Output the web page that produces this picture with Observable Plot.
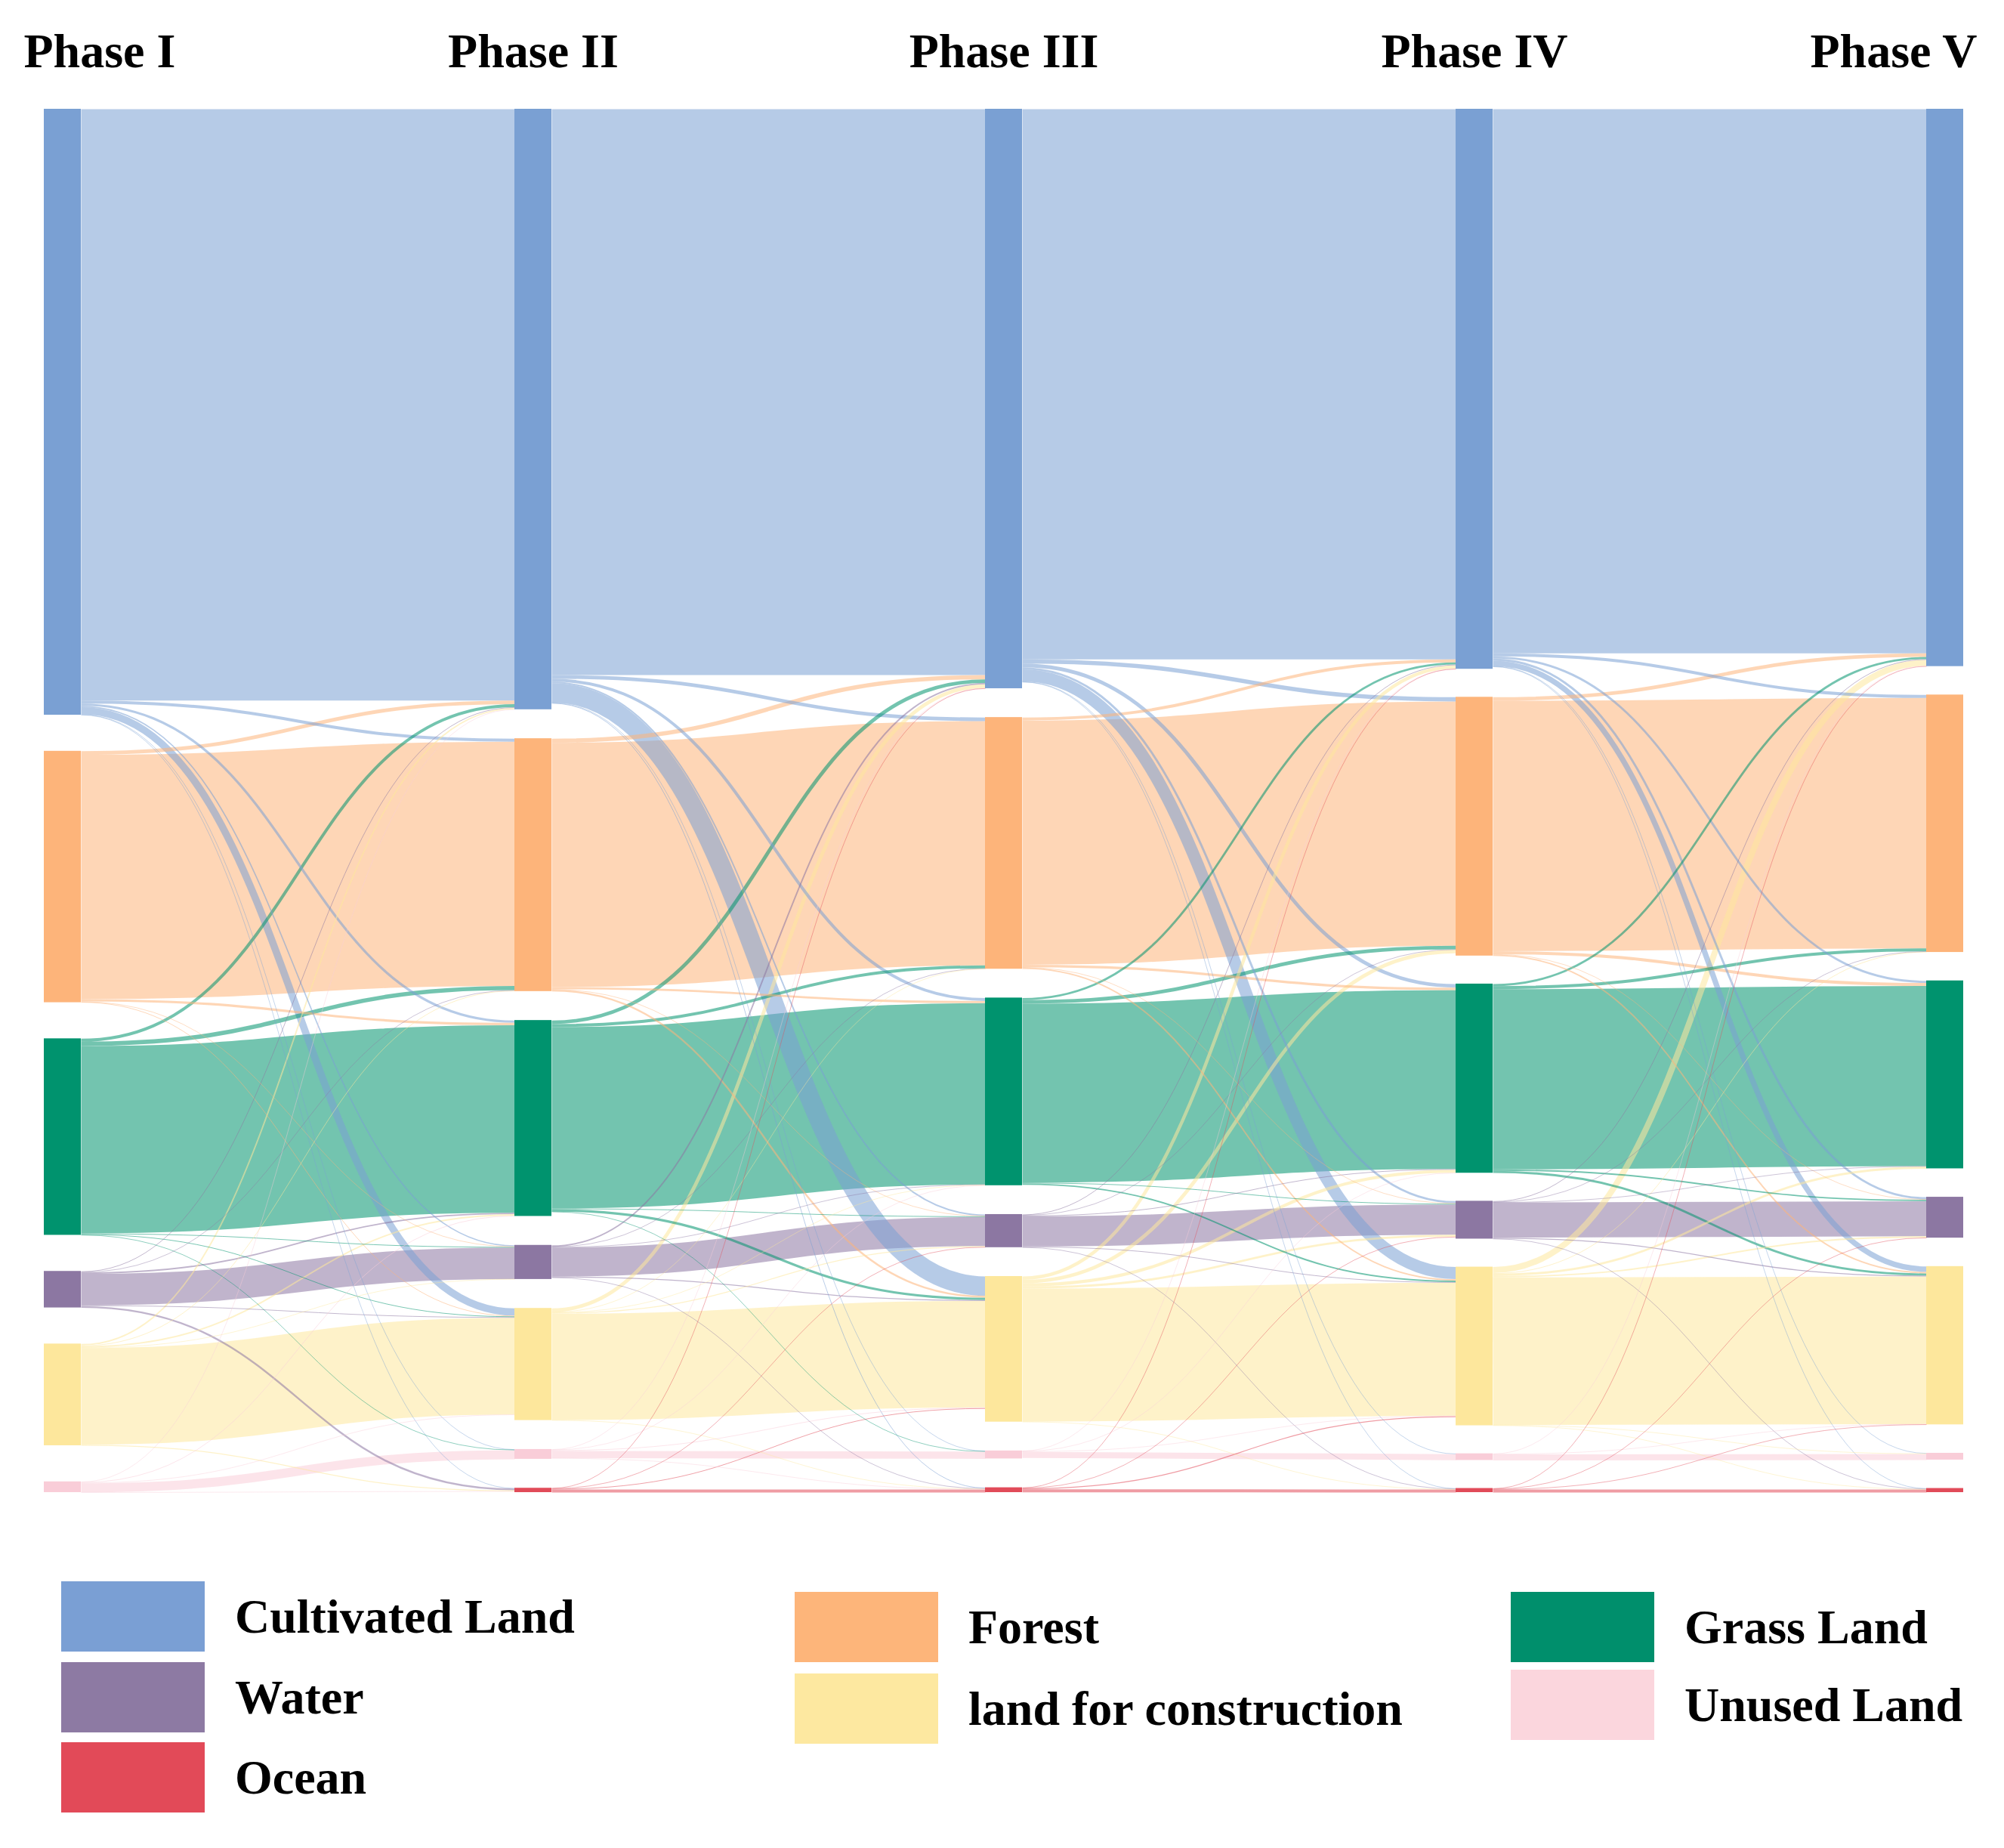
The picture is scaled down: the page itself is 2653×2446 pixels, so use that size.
<!DOCTYPE html>
<html><head><meta charset="utf-8">
<script src="https://cdn.jsdelivr.net/npm/d3@7"></script>
<script src="https://cdn.jsdelivr.net/npm/@observablehq/plot@0.6"></script>
<style>
body{margin:0;background:#fff;}
#wrap{position:relative;width:2653px;height:2446px;font-family:"Liberation Serif","Times New Roman",serif;font-weight:bold;overflow:hidden;}
#chart{position:absolute;left:0;top:0;}
.lg{position:absolute;display:flex;align-items:center;height:93px;}
.sw{width:190px;height:93px;flex:none;}
.lb{font-size:64px;margin-left:40px;color:#000;white-space:nowrap;line-height:1;}
</style></head><body><div id="wrap"><div id="chart"></div><div id="legend"></div></div>
<script>
const phases = ["Phase I", "Phase II", "Phase III", "Phase IV", "Phase V"];
const categories = ["Cultivated Land", "Forest", "Grass Land", "Water", "land for construction", "Unused Land", "Ocean"];
const colors = ["#7aa0d3", "#fdb47a", "#00936e", "#8c77a2", "#fde79c", "#f9cdd8", "#e14b59"];

// land transfer between phases (% of total area); rows = from, columns = to
// order: Cultivated, Forest, Grass, Water, Construction, Unused, Ocean
const flowsI_II = [
  [48.9, 0.25, 0.2, 0.1, 0.6, 0.03, 0.03],
  [0.3, 20.2, 0.2, 0.03, 0.06, 0, 0],
  [0.25, 0.35, 15.5, 0.06, 0.06, 0.03, 0],
  [0.06, 0.03, 0.12, 2.6, 0.06, 0, 0.15],
  [0.12, 0.06, 0.12, 0.03, 8.0, 0, 0.08],
  [0.03, 0, 0.06, 0, 0.03, 0.75, 0.02],
  [0, 0, 0, 0, 0, 0, 0]
];
const flowsII_III = [
  [46.8, 0.3, 0.25, 0.12, 1.6, 0.03, 0.06],
  [0.35, 20.2, 0.18, 0.03, 0.15, 0, 0],
  [0.3, 0.25, 15.0, 0.06, 0.2, 0.03, 0],
  [0.12, 0.03, 0.03, 2.4, 0.08, 0, 0.03],
  [0.3, 0.03, 0.03, 0.08, 8.8, 0, 0.03],
  [0.03, 0, 0.03, 0, 0.06, 0.6, 0.03],
  [0.02, 0, 0, 0.03, 0.06, 0, 0.25]
];
const flowsIII_IV = [
  [45.5, 0.35, 0.3, 0.18, 1.0, 0.03, 0.03],
  [0.25, 20.2, 0.2, 0.03, 0.12, 0, 0],
  [0.18, 0.3, 14.8, 0.06, 0.12, 0, 0],
  [0.06, 0.03, 0.06, 2.5, 0.06, 0, 0.03],
  [0.28, 0.3, 0.25, 0.18, 11.0, 0, 0.03],
  [0.02, 0, 0.03, 0, 0.03, 0.5, 0],
  [0.02, 0, 0, 0.03, 0.08, 0, 0.25]
];
const flowsIV_V = [
  [45.0, 0.25, 0.18, 0.18, 0.45, 0.03, 0.03],
  [0.3, 20.7, 0.25, 0.03, 0.12, 0, 0],
  [0.18, 0.25, 14.9, 0.12, 0.18, 0, 0],
  [0.06, 0.03, 0.03, 2.9, 0.08, 0, 0.03],
  [0.5, 0.06, 0.18, 0.12, 12.2, 0.03, 0.03],
  [0.02, 0, 0, 0, 0.03, 0.5, 0],
  [0.03, 0, 0, 0.03, 0.03, 0, 0.25]
];
const transitions = [flowsI_II, flowsII_III, flowsIII_IV, flowsIV_V];

// ---- layout (computed from the data) ----
const W = 2653, H = 2000, TOP = 144, BOTTOM = 1975;
const X0 = 82.5, X1 = 2574.5, NODE_PX = 49;
const D = 114.4; // vertical extent in data units
const k = (BOTTOM - TOP) / D;
const hw = (NODE_PX / 2) / ((X1 - X0) / (phases.length - 1));
const nC = categories.length;

const nodes = [];
const nodeAt = {};
phases.forEach((ph, p) => {
  const col = [];
  for (let c = 0; c < nC; c++) {
    const vin = p > 0 ? d3.sum(transitions[p - 1], r => r[c]) : 0;
    const vout = p < phases.length - 1 ? d3.sum(transitions[p][c]) : 0;
    const v = Math.max(vin, vout);
    if (v > 0) col.push({p, c, v});
  }
  const total = d3.sum(col, d => d.v);
  const gap = (D - total) / (col.length - 1);
  let y = 0;
  for (const n of col) { n.y0 = y; n.y1 = y + n.v; y = n.y1 + gap; nodes.push(n); nodeAt[p + "-" + n.c] = n; }
});

const links = [];
transitions.forEach((m, t) => {
  for (let s = 0; s < nC; s++) for (let c = 0; c < nC; c++) if (m[s][c] > 0) links.push({t, s, c, v: m[s][c]});
});
d3.group(links, d => d.t + "-" + d.s).forEach((arr, key) => {
  let off = nodeAt[key].y0;
  arr.sort((a, b) => a.c - b.c).forEach(l => { l.ys = off + l.v / 2; off += l.v; });
});
d3.group(links, d => (d.t + 1) + "-" + d.c).forEach((arr, key) => {
  let off = nodeAt[key].y0;
  arr.sort((a, b) => a.s - b.s).forEach(l => { l.yt = off + l.v / 2; off += l.v; });
});
links.sort((a, b) => b.v - a.v);

const font = "Liberation Serif, Times New Roman, serif";
const titleDy = -101;
const chart = Plot.plot({
  width: W, height: H,
  marginTop: TOP, marginBottom: H - BOTTOM, marginLeft: 0, marginRight: 0,
  x: {domain: [0, phases.length - 1], range: [X0, X1], axis: null},
  y: {domain: [0, D], range: [TOP, BOTTOM], axis: null},
  color: {type: "identity"},
  marks: [
    Plot.link(links, {
      x1: d => d.t + hw, x2: d => d.t + 1 - hw,
      y1: "ys", y2: "yt",
      curve: "bump-x",
      stroke: d => colors[d.s],
      strokeOpacity: 0.55,
      strokeWidth: d => Math.max(d.v * k, 0.8)
    }),
    Plot.rect(nodes, {
      x1: d => d.p - hw, x2: d => d.p + hw,
      y1: "y0", y2: "y1",
      fill: d => colors[d.c]
    }),
    Plot.text([phases[0]], {x: () => 0 - hw, frameAnchor: "top", dy: titleDy, dx: -27, textAnchor: "start", text: d => d, fontSize: 64, fontWeight: "bold", fontFamily: font, fill: "#000"}),
    Plot.text(phases.slice(1, 4), {x: (d, i) => i + 1, frameAnchor: "top", dy: titleDy, textAnchor: "middle", text: d => d, fontSize: 64, fontWeight: "bold", fontFamily: font, fill: "#000"}),
    Plot.text([phases[4]], {x: () => phases.length - 1 + hw, frameAnchor: "top", dy: titleDy, dx: 18, textAnchor: "end", text: d => d, fontSize: 64, fontWeight: "bold", fontFamily: font, fill: "#000"})
  ]
});
document.getElementById("chart").appendChild(chart);

// ---- legend ----
const legendColors = ["#7a9fd4", "#fdb57a", "#008f6c", "#8d7aa3", "#fde8a0", "#fbd6dd", "#e24a58"];
const legendPos = [
  [81, 2093], [1052, 2107], [2000, 2107],
  [81, 2200], [1052, 2215], [2000, 2210],
  [81, 2306]
];
const lg = document.getElementById("legend");
categories.forEach((name, i) => {
  const el = document.createElement("div");
  el.className = "lg";
  el.style.left = legendPos[i][0] + "px";
  el.style.top = legendPos[i][1] + "px";
  el.innerHTML = `<div class="sw" style="background:${legendColors[i]}"></div><div class="lb">${name}</div>`;
  lg.appendChild(el);
});
</script></body></html>
